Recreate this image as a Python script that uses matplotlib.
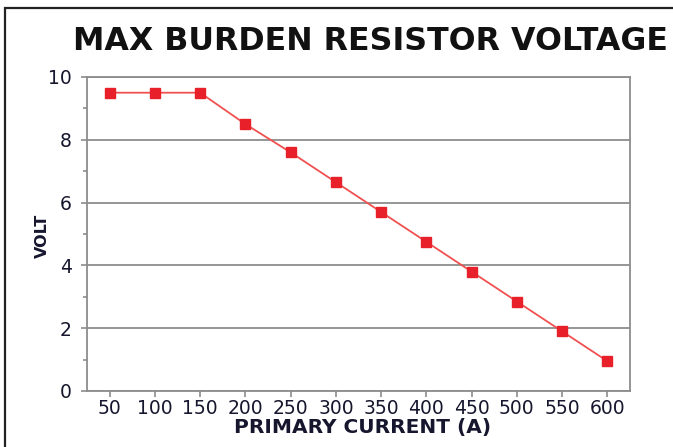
import matplotlib
matplotlib.use("Agg")
import matplotlib.pyplot as plt
from matplotlib.patches import Rectangle
from matplotlib.ticker import MultipleLocator

# 数据
current = [50, 100, 150, 200, 250, 300, 350, 400, 450, 500, 550, 600]
volt = [9.5, 9.5, 9.5, 8.5, 7.6, 6.65, 5.7, 4.75, 3.8, 2.85, 1.9, 0.95]
title = "MAX BURDEN RESISTOR VOLTAGE"
x_label = "PRIMARY CURRENT (A)"
y_label = "VOLT"

plt.rcParams["font.family"] = ["DejaVu Sans"]

fig = plt.figure(figsize=(6.73, 4.47), dpi=100)
W, H = 673, 447
ax = fig.add_axes([87 / W, 1 - 391 / H, (630 - 87) / W, (391 - 77) / H])

# 外框 (左边和上边可见)
fig.patches.append(Rectangle((5 / W, -0.1), 1.2, 1 - 8 / H + 0.1,
                             transform=fig.transFigure, fill=False,
                             edgecolor="#222222", linewidth=1.6))

ax.plot(current, volt, color="#f05050", linewidth=1.3, marker="s",
        markersize=7, markerfacecolor="#e8202a", markeredgecolor="#e8202a",
        zorder=3)

ax.set_xlim(25, 625)
ax.set_ylim(0, 10)
ax.set_xticks(current)
ax.yaxis.set_major_locator(MultipleLocator(2))
ax.yaxis.set_minor_locator(MultipleLocator(1))
ax.grid(axis="y", which="major", color="#8c8c8c", linewidth=1.3)

for s in ax.spines.values():
    s.set_color("#8c8c8c")
    s.set_linewidth(1.3)

text_color = "#16162e"
ax.tick_params(axis="both", which="both", color="#8c8c8c", width=1.2,
               labelsize=13.5, labelcolor=text_color)
ax.tick_params(axis="x", length=4.5, pad=1)
ax.tick_params(axis="y", which="major", length=4, pad=7)
ax.tick_params(axis="y", which="minor", length=3)

ax.set_xlabel(x_label, fontsize=14.5, fontweight="bold", color=text_color)
ax.xaxis.set_label_coords(0.508, (391 - 418) / 314)
ax.set_ylabel(y_label, fontsize=11.5, fontweight="bold", color=text_color)
ax.yaxis.set_label_coords((42 - 87) / 543, 0.494)
ax.yaxis.label.set_va("center")

fig.text(73 / W, 1 - 41 / H, title, fontsize=22.8, fontweight="bold",
         va="center", ha="left", color="#111111")

fig.savefig("out.png", dpi=100)
